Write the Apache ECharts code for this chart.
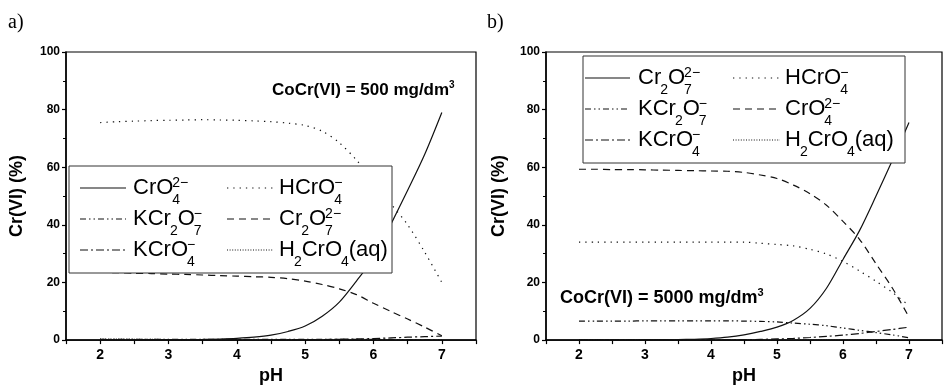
<!DOCTYPE html>
<html>
<head>
<meta charset="utf-8">
<script src="https://cdn.jsdelivr.net/npm/echarts@6/dist/echarts.min.js"></script>
<style>
html,body{margin:0;padding:0;background:#fff;}
#chart{width:945px;height:390px;}
</style>
</head>
<body>
<div id="chart"></div>
<script>
// ---------------- DATA ----------------
const phValues = [2,2.25,2.5,2.75,3,3.25,3.5,3.75,4,4.25,4.5,4.75,5,5.25,5.5,5.75,6,6.25,6.5,6.75,7];
const xTickLabels = [2,3,4,5,6,7];
const yTicks = [0,20,40,60,80,100];

// Panel a) C0 Cr(VI) = 500 mg/dm3
const aCrO4   = [0.02,0.03,0.04,0.06,0.09,0.14,0.22,0.36,0.6,1.0,1.7,3.0,4.9,8.3,13.2,20.5,28.5,40,52,64.5,79];
const aHCrO4  = [75.5,75.8,76,76.2,76.3,76.4,76.5,76.4,76.3,76.1,75.8,75.3,74.5,72.5,68.5,62.5,55.5,47.5,40,30.5,20];
const aKCr2O7 = [0.3,0.3,0.3,0.3,0.3,0.3,0.3,0.3,0.3,0.3,0.3,0.3,0.3,0.3,0.28,0.26,0.24,0.22,0.2,0.18,0.15];
const aCr2O7  = [23.5,23.4,23.2,23.1,22.9,22.8,22.6,22.4,22.2,22.0,21.8,21.3,20.5,19.3,17.8,15.8,12.8,10.0,7.3,4.5,1.5];
const aKCrO4  = [0.05,0.05,0.05,0.05,0.05,0.05,0.05,0.05,0.05,0.06,0.08,0.1,0.15,0.2,0.3,0.4,0.55,0.75,1.0,1.2,1.4];
const aH2CrO4 = [0.4,0.35,0.3,0.25,0.2,0.18,0.15,0.12,0.1,0.08,0.06,0.05,0.04,0.03,0.02,0.02,0.01,0.01,0.01,0,0];

// Panel b) C0 Cr(VI) = 5000 mg/dm3
const bCr2O7  = [0.01,0.01,0.02,0.03,0.05,0.09,0.16,0.3,0.55,1.0,1.8,3.0,4.5,6.9,11,18,28,38,50,62.5,75.5];
const bHCrO4  = [34,34,34,34,34,34,34,34,34,34,34,33.6,33.2,32.7,31.5,29.9,27.3,24,20.4,16.5,12];
const bKCr2O7 = [6.6,6.6,6.6,6.6,6.7,6.7,6.7,6.7,6.7,6.7,6.6,6.5,6.3,5.9,5.5,5.0,4.2,3.4,2.6,1.8,0.8];
const bCrO4   = [59.3,59.3,59.2,59.2,59.1,59.0,58.9,58.8,58.7,58.6,58.2,57.3,56.1,53.8,50.8,46.8,41.2,35,26.5,18,8];
const bKCrO4  = [0,0,0,0.01,0.01,0.02,0.03,0.05,0.08,0.1,0.15,0.25,0.4,0.6,0.9,1.3,1.7,2.3,3.0,3.7,4.5];
const bH2CrO4 = [0.15,0.13,0.11,0.09,0.07,0.06,0.05,0.04,0.03,0.02,0.02,0.01,0.01,0.01,0.01,0,0,0,0,0,0];

// legend labels (markup: {sub|sup})
const legendA = ['CrO{4|2−}','HCrO{4|−}','KCr{2|}O{7|−}','Cr{2|}O{7|2−}','KCrO{4|−}','H{2|}CrO{4|}(aq)'];
const legendB = ['Cr{2|}O{7|2−}','HCrO{4|−}','KCr{2|}O{7|−}','CrO{4|2−}','KCrO{4|−}','H{2|}CrO{4|}(aq)'];
const namesA = ['CrO4 2−','HCrO4 −','KCr2O7 −','Cr2O7 2−','KCrO4 −','H2CrO4(aq)'];
const namesB = ['Cr2O7 2−','HCrO4 −','KCr2O7 −','CrO4 2−','KCrO4 −','H2CrO4(aq)'];
const annotA = 'CoCr(VI) = 500 mg/dm';
const annotB = 'CoCr(VI) = 5000 mg/dm';
const panelLabels = ['a)','b)'];
const xName = 'pH';
const yName = 'Cr(VI) (%)';

// ---------------- STYLE ----------------
const FONT = 'Liberation Sans, Arial, sans-serif';
const dashStyles = ['solid',[1.3,5],[6,3,1.5,3,1.5,3],[7,5],[8,3,2,3],[1,1.6]];

const chart = echarts.init(document.getElementById('chart'), null, {renderer:'canvas'});

function pairs(ys){ return phValues.map((x,i)=>[x,ys[i]]); }

function makeX(gridIndex){
  return {
    type:'value', gridIndex, min:1.5, max:7.5, interval:0.5,
    axisLine:{show:true,onZero:false,lineStyle:{color:'#000',width:1.5}},
    axisTick:{show:true,length:4,lineStyle:{color:'#000',width:1.2}},
    splitLine:{show:false},
    axisLabel:{color:'#000',fontFamily:FONT,fontWeight:'bold',fontSize:14,margin:8,
      formatter:v=> xTickLabels.indexOf(v)>=0 ? String(v) : ''},
    name:xName, nameLocation:'middle', nameGap:20,
    nameTextStyle:{color:'#000',fontFamily:FONT,fontWeight:'bold',fontSize:18}
  };
}
function makeY(gridIndex,gap){
  return {
    type:'value', gridIndex, min:0, max:100, interval:20,
    axisLine:{show:true,onZero:false,lineStyle:{color:'#000',width:1.5}},
    axisTick:{show:true,length:4,lineStyle:{color:'#000',width:1.2}},
    minorTick:{show:true,splitNumber:2,length:3,lineStyle:{color:'#000',width:1}},
    splitLine:{show:false},
    axisLabel:{color:'#000',fontFamily:FONT,fontWeight:'bold',fontSize:12,margin:6,
      formatter:v=> yTicks.indexOf(v)>=0 ? String(v) : ''},
    name:yName, nameLocation:'middle', nameGap:gap,
    nameTextStyle:{color:'#000',fontFamily:FONT,fontWeight:'bold',fontSize:18}
  };
}

const seriesA = [aCrO4,aHCrO4,aKCr2O7,aCr2O7,aKCrO4,aH2CrO4];
const seriesB = [bCr2O7,bHCrO4,bKCr2O7,bCrO4,bKCrO4,bH2CrO4];
const series = [];
seriesA.forEach((d,i)=>series.push({
  name:namesA[i], type:'line', xAxisIndex:0, yAxisIndex:0, data:pairs(d), smooth:0.3,
  showSymbol:false, symbol:'none', lineStyle:{color:'#111',width:1.2,type:dashStyles[i]}, z:2
}));
seriesB.forEach((d,i)=>series.push({
  name:namesB[i], type:'line', xAxisIndex:1, yAxisIndex:1, data:pairs(d), smooth:0.3,
  showSymbol:false, symbol:'none', lineStyle:{color:'#111',width:1.2,type:dashStyles[i]}, z:2
}));

// ---------------- GRAPHIC (legend, annotations) ----------------
const mctx = document.createElement('canvas').getContext('2d');
function tw(text,size,weight){ mctx.font=(weight||'normal')+' '+size+'px '+FONT; return mctx.measureText(text).width; }

function chemLabel(markup,x,y,mainSize,subSize){
  const els=[]; let cx=x;
  const re=/\{([^|}]*)\|([^}]*)\}/g; let last=0,m;
  const parts=[];
  while((m=re.exec(markup))){ if(m.index>last) parts.push({t:markup.slice(last,m.index)}); parts.push({sub:m[1],sup:m[2]}); last=re.lastIndex; }
  if(last<markup.length) parts.push({t:markup.slice(last)});
  parts.forEach(p=>{
    if(p.t!==undefined){
      els.push({type:'text',x:cx,y:y,z:101,style:{text:p.t,fill:'#000',font:mainSize+'px '+FONT,textAlign:'left',textVerticalAlign:'middle'}});
      cx+=tw(p.t,mainSize);
    } else {
      const sx=cx-1; let w=0;
      if(p.sub){ els.push({type:'text',x:sx,y:y+12,z:101,style:{text:p.sub,fill:'#000',font:subSize+'px '+FONT,textAlign:'left',textVerticalAlign:'middle'}}); w=Math.max(w,tw(p.sub,subSize)); }
      if(p.sup){ els.push({type:'text',x:sx,y:y-5,z:101,style:{text:p.sup,fill:'#000',font:subSize+'px '+FONT,textAlign:'left',textVerticalAlign:'middle'}}); w=Math.max(w,tw(p.sup,subSize)); }
      cx=sx+w;
    }
  });
  return els;
}

function legendBox(box,rows,col1Line,col1Text,col2Line,col2Text,labels){
  const els=[{type:'rect',z:100,shape:{x:box[0],y:box[1],width:box[2]-box[0],height:box[3]-box[1]},style:{fill:'#fff',stroke:'#333',lineWidth:1}}];
  labels.forEach((lab,i)=>{
    const r=Math.floor(i/2), c=i%2;
    const y=rows[r];
    const ln=c===0?col1Line:col2Line, tx=c===0?col1Text:col2Text;
    const dash=dashStyles[i];
    els.push({type:'line',z:101,shape:{x1:ln[0],y1:y,x2:ln[1],y2:y},style:{stroke:'#111',lineWidth:1.2,lineDash:dash==='solid'?null:dash}});
    els.push(...chemLabel(lab,tx,y,22,14));
  });
  return els;
}

function annot(text,x,y,size){
  const w=tw(text,size,'bold');
  return [
    {type:'text',x:x,y:y,z:101,style:{text:text,fill:'#000',font:'bold '+size+'px '+FONT,textAlign:'left',textVerticalAlign:'middle'}},
    {type:'text',x:x+w,y:y-5,z:101,style:{text:'3',fill:'#000',font:'bold '+Math.round(size*0.6)+'px '+FONT,textAlign:'left',textVerticalAlign:'middle'}}
  ];
}

const graphics=[].concat(
  legendBox([69,166,392,273],[188,219,250],[80,126],133,[227,273],279,legendA),
  legendBox([583,56,905,163],[78,109,140],[585,630],638,[733,780],785,legendB),
  annot(annotA,272,90,17),
  annot(annotB,560,298,18),
  [{type:'text',x:8,y:23,z:101,style:{text:panelLabels[0],fill:'#000',font:'20px Liberation Serif, Times New Roman, serif',textAlign:'left',textVerticalAlign:'middle'}},
   {type:'text',x:487,y:23,z:101,style:{text:panelLabels[1],fill:'#000',font:'20px Liberation Serif, Times New Roman, serif',textAlign:'left',textVerticalAlign:'middle'}}]
);

const option={
  backgroundColor:'#fff',
  animation:false,
  grid:[
    {left:66,top:52,width:410,height:301,show:true,borderColor:'#000',borderWidth:1.2,backgroundColor:'transparent'},
    {left:546,top:52,width:412,height:303,show:true,borderColor:'#000',borderWidth:1.2,backgroundColor:'transparent'}
  ],
  xAxis:[makeX(0),makeX(1)],
  yAxis:[makeY(0,40),makeY(1,38)],
  series:series,
  graphic:{elements:graphics}
};
chart.setOption(option);
</script>
</body>
</html>
